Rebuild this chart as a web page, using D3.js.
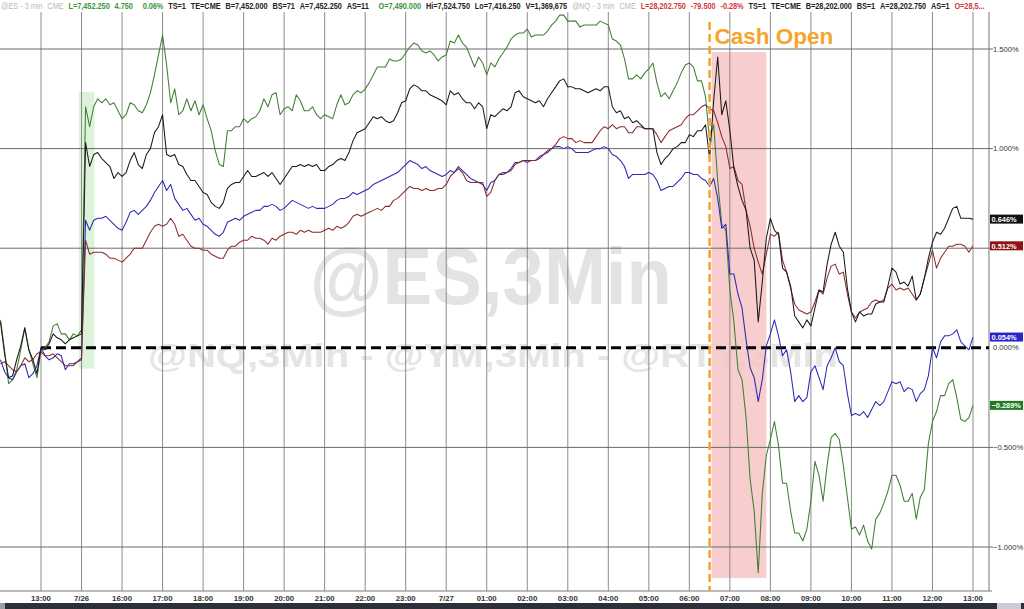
<!DOCTYPE html>
<html><head><meta charset="utf-8">
<script src="https://cdn.jsdelivr.net/npm/d3@7/dist/d3.min.js"></script>
<style>html,body{margin:0;padding:0;background:#fff;overflow:hidden}svg{display:block;font-family:"Liberation Sans",Arial,Helvetica,sans-serif}</style>
</head><body>
<svg id="c" width="1024" height="609"></svg>
<script>
// ---------- DATA ----------
const tickLabels = ["13:00","7/26","16:00","17:00","18:00","19:00","20:00","21:00","22:00","23:00","7/27","01:00","02:00","03:00","04:00","05:00","06:00","07:00","08:00","09:00","10:00","11:00","12:00","13:00"];
const yTicks = [1.5, 1.0, 0, -0.5, -1.0];
// time in hours from the first 13:00 label (non-trading gap removed), 6-minute bars
const hours = d3.range(241).map(i => Math.round((i - 10)) / 10);

const rty = [0.14,-0.01,-0.18,-0.16,-0.11,-0.01,0.10,-0.01,-0.08,-0.15,
-0.01,0.00,0.03,0.11,0.12,0.07,0.07,0.04,0.07,0.06,
0.09,1.21,1.11,1.21,1.25,1.23,1.25,1.22,1.23,1.19,
1.15,1.17,1.23,1.22,1.19,1.18,1.22,1.28,1.37,1.47,
1.57,1.42,1.23,1.30,1.17,1.19,1.25,1.19,1.24,1.17,
1.22,1.15,1.09,0.99,0.92,0.91,1.09,1.09,1.11,1.11,
1.15,1.13,1.15,1.16,1.19,1.25,1.21,1.27,1.28,1.17,
1.20,1.21,1.19,1.27,1.24,1.19,1.19,1.21,1.17,1.15,
1.17,1.16,1.15,1.22,1.27,1.22,1.23,1.27,1.29,1.28,
1.30,1.33,1.37,1.41,1.41,1.41,1.45,1.44,1.44,1.45,
1.48,1.51,1.53,1.52,1.49,1.48,1.49,1.47,1.44,1.46,
1.47,1.54,1.53,1.57,1.53,1.51,1.46,1.41,1.46,1.43,
1.37,1.43,1.41,1.45,1.48,1.51,1.55,1.57,1.58,1.58,
1.60,1.56,1.57,1.57,1.57,1.59,1.62,1.64,1.67,1.67,
1.64,1.64,1.64,1.61,1.62,1.62,1.62,1.62,1.64,1.63,
1.62,1.55,1.54,1.52,1.45,1.35,1.35,1.37,1.35,1.38,
1.40,1.43,1.33,1.26,1.28,1.25,1.29,1.33,1.38,1.42,
1.43,1.41,1.34,1.34,1.26,1.04,1.12,0.84,0.62,0.59,
0.29,0.13,-0.11,-0.16,-0.35,-0.66,-0.82,-1.13,-0.73,-0.54,
-0.46,-0.37,-0.49,-0.68,-0.68,-0.82,-0.93,-0.93,-0.97,-0.91,
-0.77,-0.57,-0.64,-0.77,-0.59,-0.45,-0.43,-0.46,-0.59,-0.75,
-0.91,-0.90,-0.94,-0.89,-0.97,-1.01,-0.86,-0.83,-0.78,-0.72,
-0.64,-0.64,-0.69,-0.77,-0.77,-0.73,-0.86,-0.75,-0.71,-0.48,
-0.37,-0.32,-0.24,-0.24,-0.18,-0.16,-0.25,-0.36,-0.37,-0.35,
-0.289];

const nq = [0.13,-0.03,-0.15,-0.14,-0.06,0.01,0.10,-0.01,-0.06,-0.13,
0.00,-0.01,0.02,0.07,0.05,0.04,0.02,0.04,0.05,0.06,
0.07,1.03,0.91,0.97,0.98,0.95,0.93,0.91,0.85,0.88,
0.86,0.88,0.94,0.98,0.92,0.90,0.97,1.00,1.08,1.11,
1.17,0.97,0.96,0.97,0.92,0.91,0.87,0.84,0.84,0.81,
0.78,0.77,0.73,0.71,0.70,0.73,0.80,0.82,0.83,0.83,
0.86,0.89,0.86,0.86,0.87,0.88,0.86,0.88,0.85,0.82,
0.85,0.88,0.91,0.91,0.92,0.91,0.92,0.91,0.92,0.89,
0.89,0.91,0.92,0.94,0.95,0.94,0.98,1.04,1.08,1.09,
1.10,1.13,1.16,1.15,1.16,1.14,1.13,1.14,1.18,1.23,
1.24,1.30,1.32,1.31,1.29,1.29,1.27,1.26,1.25,1.24,
1.22,1.29,1.27,1.28,1.25,1.23,1.23,1.20,1.23,1.21,
1.10,1.17,1.16,1.18,1.20,1.19,1.21,1.28,1.29,1.26,
1.25,1.24,1.23,1.24,1.21,1.25,1.28,1.31,1.34,1.35,
1.31,1.31,1.30,1.30,1.29,1.28,1.29,1.30,1.29,1.31,
1.31,1.21,1.18,1.19,1.15,1.16,1.13,1.14,1.12,1.10,
1.10,1.10,0.98,0.92,0.95,0.97,1.00,1.01,1.03,1.03,
1.07,1.06,1.09,1.09,1.12,0.95,1.24,1.46,1.17,1.24,
1.09,0.90,0.81,0.74,0.69,0.50,0.44,0.13,0.33,0.55,
0.65,0.59,0.57,0.40,0.38,0.31,0.16,0.13,0.10,0.14,
0.11,0.20,0.29,0.28,0.42,0.52,0.58,0.51,0.48,0.30,
0.18,0.13,0.18,0.16,0.17,0.17,0.22,0.23,0.23,0.31,
0.40,0.38,0.32,0.33,0.31,0.36,0.24,0.27,0.35,0.45,
0.53,0.58,0.57,0.60,0.65,0.70,0.71,0.65,0.65,0.65,
0.646];

const es = [-0.06,-0.12,-0.15,-0.16,-0.12,-0.09,-0.08,-0.15,-0.13,-0.09,
0.00,-0.04,-0.06,-0.05,-0.03,-0.04,-0.11,-0.08,-0.08,-0.07,
-0.05,0.64,0.59,0.64,0.65,0.65,0.66,0.64,0.62,0.60,
0.59,0.63,0.68,0.69,0.67,0.69,0.71,0.74,0.78,0.81,
0.84,0.79,0.82,0.75,0.72,0.69,0.70,0.67,0.64,0.65,
0.62,0.61,0.59,0.57,0.56,0.58,0.63,0.64,0.65,0.64,
0.66,0.67,0.68,0.69,0.69,0.71,0.71,0.72,0.71,0.69,
0.70,0.72,0.74,0.73,0.72,0.71,0.70,0.71,0.70,0.70,
0.70,0.71,0.72,0.74,0.75,0.75,0.76,0.78,0.77,0.78,
0.79,0.80,0.82,0.83,0.84,0.85,0.86,0.87,0.88,0.90,
0.92,0.94,0.93,0.92,0.90,0.91,0.89,0.88,0.87,0.86,
0.87,0.89,0.88,0.91,0.89,0.87,0.85,0.84,0.83,0.82,
0.79,0.83,0.84,0.87,0.87,0.88,0.90,0.93,0.93,0.94,
0.94,0.94,0.94,0.95,0.97,0.98,1.00,1.01,1.01,1.00,
1.01,1.00,0.98,0.98,0.98,0.98,0.99,1.00,1.00,1.01,
1.00,0.97,0.96,0.94,0.91,0.85,0.87,0.87,0.87,0.87,
0.88,0.87,0.84,0.79,0.80,0.81,0.81,0.83,0.85,0.88,
0.88,0.87,0.87,0.85,0.84,0.81,0.85,0.75,0.60,0.62,
0.37,0.37,0.27,0.20,0.04,-0.10,-0.15,-0.27,-0.16,0.01,
0.07,0.14,0.06,-0.04,-0.01,-0.12,-0.27,-0.24,-0.27,-0.25,
-0.12,-0.09,-0.15,-0.21,-0.09,-0.05,0.00,-0.07,-0.09,-0.23,
-0.34,-0.33,-0.34,-0.32,-0.35,-0.31,-0.27,-0.29,-0.27,-0.22,
-0.17,-0.18,-0.17,-0.22,-0.20,-0.21,-0.27,-0.23,-0.21,-0.14,
0.00,-0.05,0.03,0.06,0.06,0.07,0.09,0.03,0.01,-0.01,
0.054];

const ym = [-0.08,-0.07,-0.09,-0.11,-0.12,-0.09,-0.05,-0.07,-0.06,-0.03,
-0.02,-0.04,-0.04,-0.03,-0.05,-0.07,-0.09,-0.09,-0.09,-0.07,
-0.06,0.54,0.47,0.48,0.48,0.48,0.47,0.45,0.45,0.44,
0.43,0.45,0.47,0.50,0.50,0.50,0.54,0.58,0.61,0.62,
0.61,0.62,0.65,0.62,0.56,0.57,0.54,0.51,0.50,0.50,
0.49,0.49,0.47,0.46,0.45,0.45,0.49,0.51,0.51,0.53,
0.54,0.54,0.56,0.55,0.55,0.54,0.52,0.55,0.54,0.56,
0.57,0.58,0.58,0.57,0.59,0.58,0.59,0.58,0.58,0.58,
0.59,0.60,0.59,0.61,0.60,0.61,0.63,0.66,0.67,0.66,
0.67,0.68,0.69,0.70,0.69,0.71,0.71,0.74,0.75,0.77,
0.79,0.81,0.80,0.80,0.79,0.80,0.79,0.79,0.80,0.80,
0.82,0.86,0.88,0.90,0.88,0.84,0.83,0.83,0.83,0.83,
0.76,0.78,0.84,0.87,0.88,0.88,0.89,0.92,0.93,0.94,
0.93,0.94,0.94,0.96,0.97,0.99,1.00,1.02,1.05,1.06,
1.05,1.05,1.03,1.04,1.03,1.03,1.03,1.06,1.09,1.11,
1.10,1.12,1.10,1.11,1.11,1.08,1.08,1.11,1.11,1.10,
1.10,1.10,1.07,1.03,1.06,1.09,1.10,1.11,1.12,1.15,
1.17,1.17,1.19,1.21,1.22,1.20,1.19,1.13,1.06,1.01,
0.90,0.91,0.84,0.82,0.69,0.61,0.50,0.43,0.37,0.47,
0.57,0.56,0.58,0.44,0.38,0.30,0.22,0.19,0.18,0.17,
0.18,0.23,0.29,0.27,0.35,0.41,0.42,0.37,0.38,0.27,
0.18,0.15,0.18,0.19,0.20,0.23,0.24,0.23,0.24,0.30,
0.32,0.29,0.30,0.29,0.30,0.27,0.24,0.27,0.35,0.42,
0.49,0.40,0.45,0.48,0.51,0.51,0.52,0.52,0.51,0.48,
0.512];

const seriesNames = ["RTY","ES","YM","NQ"];
const seriesValues = [rty, es, ym, nq];
const seriesColors = ["#3f7f33","#2a2ab4","#8a2c2c","#1a1a1a"];
const boxColors = {"NQ":"#111111","YM":"#8e1414","ES":"#2626c8","RTY":"#237a23"};

const cashOpenHour = 16.5;
const cashOpenLabel = "Cash Open";
const overnightShade = {t0:0.93, t1:1.32, v0:1.285, v1:-0.105};
const openShade = {t0:16.55, t1:17.9, v0:1.485, v1:-1.155};
const watermarkMain = "@ES,3Min";
const watermarkSub = "@NQ,3Min - @YM,3Min - @RTY,3Min";

// header quote strip: [text, colour role]
const headerItems = [
 ["@ES - 3 min","dim"],["CME","dim"],["L=7,452.250","up"],["4.750","up"],["0.06%","up"],
 ["TS=1","txt"],["TE=CME","txt"],["B=7,452.000","txt"],["BS=71","txt"],["A=7,452.250","txt"],["AS=11","txt"],
 ["O=7,490.000","up"],["Hi=7,524.750","txt"],["Lo=7,416.250","txt"],["V=1,369,675","txt"],
 ["@NQ - 3 min","dim"],["CME","dim"],["L=28,202.750","dn"],["-79.500","dn"],["-0.28%","dn"],
 ["TS=1","txt"],["TE=CME","txt"],["B=28,202.000","txt"],["BS=1","txt"],["A=28,202.750","txt"],["AS=1","txt"],["O=28,5...","dn"]
];
const headerColors = {dim:"#b9b9b9", up:"#3a963a", dn:"#d23a3a", txt:"#222"};

// ---------- LAYOUT ----------
const svg = d3.select("#c");
const plotTop = 12, plotBottom = 591, plotRight = 989;
const x = d3.scaleLinear().domain([-1.012, 23.395]).range([0, plotRight]);
const y = d3.scaleLinear().domain([-1, 1.5]).range([547, 49]);

// watermark
svg.append("text").attr("x", 310).attr("y", 304).attr("font-size", 80).attr("font-weight", "bold")
  .attr("fill", "#e3e3e3").attr("textLength", 362).attr("lengthAdjust", "spacingAndGlyphs").text(watermarkMain);
svg.append("text").attr("x", 148).attr("y", 367).attr("font-size", 34).attr("font-weight", "bold")
  .attr("fill", "#e5e5e5").attr("textLength", 690).attr("lengthAdjust", "spacingAndGlyphs").text(watermarkSub);

// shaded regions
svg.append("rect").attr("x", x(overnightShade.t0)).attr("y", y(overnightShade.v0))
  .attr("width", x(overnightShade.t1) - x(overnightShade.t0)).attr("height", y(overnightShade.v1) - y(overnightShade.v0))
  .attr("fill", "#d6f1d2").attr("opacity", 0.85);
svg.append("rect").attr("x", x(openShade.t0)).attr("y", y(openShade.v0))
  .attr("width", x(openShade.t1) - x(openShade.t0)).attr("height", y(openShade.v1) - y(openShade.v0))
  .attr("fill", "#f6c4c4").attr("opacity", 0.85);

// vertical gridlines
const g = svg.append("g");
tickLabels.forEach((lab, i) => {
  g.append("line").attr("x1", x(i)).attr("x2", x(i)).attr("y1", plotTop).attr("y2", plotBottom)
    .attr("stroke", "#8c8c8c").attr("stroke-width", 1);
});
// horizontal gridlines (incl. 0.5 which is hidden under a value box on the right)
[1.5, 1.0, 0.5, -0.5, -1.0].forEach(v => {
  g.append("line").attr("x1", 0).attr("x2", plotRight + 4).attr("y1", y(v)).attr("y2", y(v))
    .attr("stroke", "#6a6a6a").attr("stroke-width", 1);
});
// axes frame
g.append("line").attr("x1", plotRight).attr("x2", plotRight).attr("y1", plotTop).attr("y2", plotBottom).attr("stroke", "#777");
g.append("line").attr("x1", 0).attr("x2", plotRight + 3).attr("y1", plotBottom).attr("y2", plotBottom).attr("stroke", "#777");

// x labels
svg.append("g").selectAll("text").data(tickLabels).join("text")
  .attr("x", (d, i) => x(i)).attr("y", 601).attr("text-anchor", "middle")
  .attr("font-size", 7.8).attr("font-weight", "bold").attr("fill", "#333").text(d => d);

// y labels
svg.append("g").selectAll("text").data(yTicks).join("text")
  .attr("x", 993).attr("y", d => y(d) + 2.6).attr("font-size", 7.6).attr("fill", "#333")
  .text(d => d3.format(".3f")(d) + "%");

// zero dashed line
svg.append("line").attr("x1", x(0)).attr("x2", plotRight).attr("y1", y(0)).attr("y2", y(0))
  .attr("stroke", "#000").attr("stroke-width", 3).attr("stroke-dasharray", "10,5");

// series lines
const line = d3.line().x((d, i) => x(hours[i])).y(d => y(d));
seriesValues.forEach((vals, k) => {
  svg.append("path").datum(vals).attr("d", line).attr("fill", "none")
    .attr("stroke", seriesColors[k]).attr("stroke-width", 1.05).attr("stroke-linejoin", "round");
});

// cash open marker
svg.append("line").attr("x1", x(cashOpenHour)).attr("x2", x(cashOpenHour)).attr("y1", 22).attr("y2", plotBottom)
  .attr("stroke", "#f5a52e").attr("stroke-width", 2.6).attr("stroke-dasharray", "8,4");
svg.append("text").attr("x", x(cashOpenHour) + 5).attr("y", 44).attr("font-size", 22.5).attr("font-weight", "bold")
  .attr("fill", "#f5a52e").text(cashOpenLabel);

// last value boxes
seriesNames.forEach((name, k) => {
  const v = seriesValues[k][seriesValues[k].length - 1];
  const yy = y(v);
  svg.append("rect").attr("x", 990).attr("y", yy - 4.5).attr("width", 33).attr("height", 9).attr("fill", boxColors[name]);
  svg.append("text").attr("x", 991.5).attr("y", yy + 3).attr("font-size", 7.4).attr("font-weight", "bold")
    .attr("fill", "#fff").text(d3.format(".3f")(v) + "%");
});

// header strip: flowing text squeezed to the plot width
const hdr = svg.append("text").attr("x", 0).attr("y", 8.6).attr("font-size", 9);
headerItems.forEach(([t, role], i) => {
  hdr.append("tspan").attr("dx", i === 0 ? 0 : (i === 4 || i === 11 ? 12 : 6))
    .attr("fill", headerColors[role]).attr("font-weight", role === "dim" ? "normal" : "bold").text(t);
});
const hb = hdr.node().getBBox();
hdr.attr("transform", `translate(1,0) scale(${(plotRight - 4) / (hb.x + hb.width)},1)`);

// bottom scrollbar
svg.append("rect").attr("x", 0).attr("y", 603).attr("width", 1024).attr("height", 6).attr("fill", "#2c3038");
svg.append("rect").attr("x", 0).attr("y", 603).attr("width", 5).attr("height", 6).attr("fill", "#9aa0a8");
svg.append("rect").attr("x", 997).attr("y", 603).attr("width", 24).attr("height", 6).attr("fill", "#c9ced4");
</script>
</body></html>
